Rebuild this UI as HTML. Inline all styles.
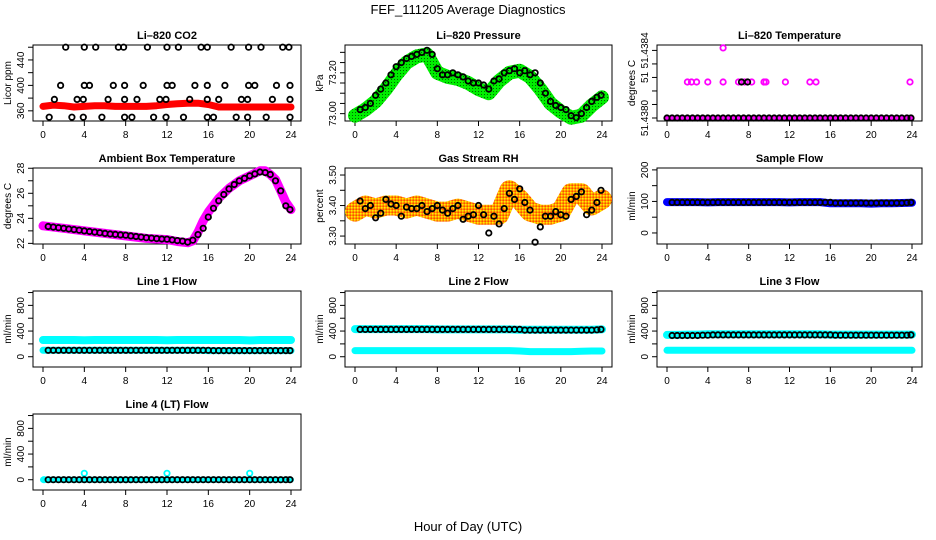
<!DOCTYPE html>
<html><head><meta charset="utf-8"><style>
body{margin:0;background:#fff;}
svg{display:block;font-family:"Liberation Sans",sans-serif;}
</style></head><body>
<svg id="chart" width="936" height="540" viewBox="0 0 936 540">
<defs>
<pattern id="rhpat" width="3" height="3" patternUnits="userSpaceOnUse">
<rect width="3" height="3" fill="#ff9900"/><rect x="0" y="0" width="1.5" height="1.5" fill="#ffee00"/><rect x="1.5" y="1.5" width="1.5" height="1.5" fill="#ff0000" opacity="0.5"/>
</pattern>
<pattern id="grpat" width="3" height="3" patternUnits="userSpaceOnUse">
<rect width="3" height="3" fill="#00ee00"/><rect x="1" y="1" width="1" height="1" fill="#006600"/>
</pattern>
</defs>
<text x="468" y="14" text-anchor="middle" font-size="13">FEF_111205  Average Diagnostics</text>
<text x="468" y="531" text-anchor="middle" font-size="13">Hour of Day (UTC)</text>
</svg>
<script>
// ---- data ----
const smearHours = [0,1,2,3,4,5,6,7,8,9,10,11,12,13,14,15,16,17,18,19,20,21,22,23,24];
const ptHours = [0.5,1,1.5,2,2.5,3,3.5,4,4.5,5,5.5,6,6.5,7,7.5,8,8.5,9,9.5,10,10.5,11,11.5,12,12.5,13,13.5,14,14.5,15,15.5,16,16.5,17,17.5,18,18.5,19,19.5,20,20.5,21,21.5,22,22.5,23,23.5,23.9];

const co2Smear = [367,369,368,366,367,368,368,367,367,367,367,368,370,371,372,372,370,366,366,366,366,366,366,366,366];
const co2PtHours = [2.2,4,5.1,7.3,7.8,10.1,12,13.1,15.3,15.9,18.2,19.9,21.1,23.2,23.8,
 1.7,4,4.5,6.8,7.9,9.7,12,12.5,14.7,15.9,17.6,19.9,20.5,22.6,23.9,
 1.1,3.3,3.9,6.3,7.9,9.1,11.3,11.9,14.2,15.9,17,19.2,19.8,22.2,23.9,
 0.6,2.8,3.9,5.7,7.9,8.6,10.7,11.9,13.6,15.9,16.5,18.7,19.8,21.6,23.9];
const co2PtVals = [460,460,460,460,460,460,460,460,460,460,460,460,460,460,460,
 400,400,400,400,400,400,400,400,400,400,400,400,400,400,400,
 378,378,378,378,378,378,378,378,378,378,378,378,378,378,378,
 350,350,350,350,350,350,350,350,350,350,350,350,350,350,350];

const presSmear = [72.99,73.02,73.06,73.12,73.19,73.25,73.28,73.29,73.20,73.18,73.17,73.15,73.12,73.10,73.16,73.20,73.21,73.18,73.12,73.05,73.01,72.98,72.99,73.04,73.08];
const presPts = [73.02,73.03,73.05,73.09,73.12,73.15,73.19,73.23,73.25,73.27,73.28,73.29,73.30,73.31,73.29,73.22,73.19,73.19,73.20,73.19,73.18,73.16,73.15,73.15,73.14,73.12,73.16,73.17,73.20,73.21,73.22,73.20,73.21,73.19,73.20,73.15,73.10,73.06,73.04,73.03,73.02,72.99,72.98,73.00,73.03,73.06,73.08,73.09];

const tempBaseHours = [0,0.5,1,1.5,2,2.5,3,3.5,4,4.5,5,5.5,6,6.5,7,7.5,8,8.5,9,9.5,10,10.5,11,11.5,12,12.5,13,13.5,14,14.5,15,15.5,16,16.5,17,17.5,18,18.5,19,19.5,20,20.5,21,21.5,22,22.5,23,23.5,23.9];
const tempPinkHours = [2,2.4,2.9,4,5.5,7,7.6,8.3,9.5,9.7,11.6,14,14.6,23.8,5.5];
const tempPinkVals = [51.438213,51.438213,51.438213,51.438213,51.438213,51.438213,51.438213,51.438213,51.438213,51.438213,51.438213,51.438213,51.438213,51.438213,51.438415];
const tempBlackHours = [7.3,7.9];
const tempBlackVals = [51.438213,51.438213];

const ambHours = [0,2,4,6,8,10,12,13,14,14.5,15,15.5,16,17,18,19,20,21,21.5,22,22.5,23,23.5,24];
const ambSmear = [23.4,23.2,23.0,22.8,22.6,22.4,22.3,22.15,22.05,22.2,22.9,23.8,24.5,25.6,26.4,27.0,27.4,27.8,27.8,27.5,27.1,26.2,25.3,24.7];
const ambPts = [23.35,23.3,23.25,23.2,23.15,23.1,23.05,23.0,22.95,22.9,22.85,22.8,22.75,22.72,22.68,22.65,22.6,22.55,22.5,22.45,22.42,22.38,22.35,22.33,22.28,22.22,22.18,22.1,22.25,22.7,23.2,24.1,24.8,25.4,25.9,26.35,26.7,27.0,27.2,27.4,27.55,27.7,27.65,27.5,27.0,26.2,25.0,24.7];

const rhSmear = [3.38,3.40,3.39,3.40,3.40,3.39,3.40,3.39,3.38,3.38,3.39,3.38,3.37,3.37,3.37,3.45,3.42,3.38,3.37,3.37,3.38,3.44,3.44,3.40,3.42];
const rhPts = [3.415,3.39,3.40,3.36,3.375,3.42,3.405,3.40,3.365,3.395,3.39,3.39,3.40,3.38,3.39,3.40,3.385,3.375,3.39,3.40,3.355,3.365,3.37,3.40,3.37,3.31,3.365,3.34,3.39,3.44,3.42,3.455,3.41,3.385,3.28,3.33,3.365,3.365,3.38,3.37,3.365,3.42,3.43,3.445,3.37,3.385,3.41,3.45];

const sampleSmear = [98,98,98,98,97,98,98,98,98,98,98,98,97,98,98,98,94,94,94,94,93,94,94,95,96];
const samplePts = [97,97,97,97,97,97,97,97,97,97,97,97,97,97,97,97,97,97,97,97,97,97,97,97,97,97,97,97,97,97,97,97,95,95,95,95,95,95,95,95,95,95,95,95,95,95,96,97];

const line1Hi = [260,260,260,260,258,260,260,260,260,260,260,260,258,260,260,260,260,260,260,260,255,260,260,260,260];
const line1Lo = [100,100,100,100,100,100,100,100,100,100,100,100,100,100,100,100,95,95,95,95,95,95,95,95,95];
const line1Pts = [100,100,100,100,100,100,100,100,100,100,100,100,100,100,100,100,100,100,100,100,100,100,100,100,100,100,100,100,100,100,100,100,95,95,95,95,95,95,95,95,95,95,95,95,95,95,95,95];

const line2Hi = [430,430,430,430,430,430,430,430,425,425,425,425,425,425,425,425,420,420,420,420,420,420,420,420,425];
const line2Lo = [95,95,95,95,95,95,95,95,95,95,95,95,95,95,95,95,90,80,80,80,80,80,85,90,90];
const line2Pts = [425,425,425,425,425,425,425,425,425,425,425,425,425,425,425,425,425,425,425,425,425,425,425,425,425,425,425,425,425,425,425,425,415,415,415,415,415,415,415,415,415,415,415,415,415,415,420,425];

const line3Hi = [340,340,345,345,350,350,350,350,350,350,350,350,350,350,350,350,345,345,345,345,345,345,345,345,345];
const line3Lo = [100,100,100,100,100,100,100,100,100,100,100,100,100,100,100,100,100,100,100,100,100,100,100,100,100];
const line3Pts = [330,330,330,330,330,330,335,335,340,340,340,340,340,340,340,340,340,340,340,340,340,340,340,340,340,340,340,340,340,340,340,340,335,335,335,335,335,335,335,335,335,335,335,335,335,335,335,340];

const line4Smear = [0,0,0,0,0,0,0,0,0,0,0,0,0,0,0,0,0,0,0,0,0,0,0,0,0];
const line4SpikeHours = [0.1,4,12,20];
const line4SpikeVals = [0,100,100,100];
const line4Pts = [0,0,0,0,0,0,0,0,0,0,0,0,0,0,0,0,0,0,0,0,0,0,0,0,0,0,0,0,0,0,0,0,0,0,0,0,0,0,0,0,0,0,0,0,0,0,0,0];

const xTicks = [0,4,8,12,16,20,24];

// ---- drawing ----
const svg = document.getElementById('chart');
const NS = 'http://www.w3.org/2000/svg';
const colL = [33, 345, 657], colR = [301, 612, 922];
const rowT = [45, 168, 291, 414], boxH = 76;
function mk(tag, attrs, parent){ const e=document.createElementNS(NS,tag); for(const k in attrs) e.setAttribute(k,attrs[k]); (parent||svg).appendChild(e); return e; }

function panel(col,row,title,name,ymin,ymax,yticks,ylabels,ytitle){
  const g = mk('g',{});
  
  
  const L=colL[col],R=colR[col],T=rowT[row],B=T+boxH;
  const xs=h=>L+10+(R-L-20)*h/24;
  const ys=v=>B-(v-ymin)/(ymax-ymin)*boxH;
  const t=mk('text',{x:(L+R)/2,y:T-6,'text-anchor':'middle','font-size':'11','font-weight':'bold'},g);
  t.textContent=title;
  
  
  const ax=mk('g',{stroke:'#000','stroke-width':'1'},g);
  
  
  mk('rect',{x:L,y:T,width:R-L,height:boxH,fill:'none'},ax);
  xTicks.forEach(h=>{
    mk('line',{x1:xs(h),x2:xs(h),y1:B,y2:B+5},ax);
    const tx=mk('text',{x:xs(h),y:B+17,'text-anchor':'middle','font-size':'10',stroke:'none'},g);
    tx.textContent=h;
    
    
  });
  yticks.forEach((v,i)=>{
    mk('line',{x1:L,x2:L-5,y1:ys(v),y2:ys(v)},ax);
    if(ylabels[i]){
      const tx=mk('text',{x:L-9,y:ys(v),'text-anchor':'middle','font-size':'10',transform:`rotate(-90 ${L-9} ${ys(v)})`},g);
      tx.textContent=ylabels[i];
      
      
    }
  });
  const yt=mk('text',{x:L-22,y:(T+B)/2,'text-anchor':'middle','font-size':'10',transform:`rotate(-90 ${L-22} ${(T+B)/2})`},g);
  yt.textContent=ytitle;
  
  
  return {g,xs,ys};
}
function band(p,hours,vals,color,w,sname){
  const d=hours.map((h,i)=>(i?'L':'M')+p.xs(h).toFixed(1)+','+p.ys(vals[i]).toFixed(1)).join(' ');
  const e=mk('path',{d:d,fill:'none',stroke:color,'stroke-width':w,'stroke-linecap':'round','stroke-linejoin':'round'},p.g);
  
  
}
function pts(p,hours,vals,color,sname,r){
  const gg=mk('g',{fill:'none',stroke:color,'stroke-width':'1.8'},p.g);
  
  
  hours.forEach((h,i)=>{
    const c=mk('circle',{cx:p.xs(h).toFixed(1),cy:p.ys(vals[i]).toFixed(1),r:r||2.7},gg);
    
    
  });
}

// CO2
let p=panel(0,0,'Li–820 CO2','co2-panel',344,463.5,[360,380,400,420,440,460],['360','','400','','440',''],'Licor ppm');
band(p,smearHours,co2Smear,'#ff0000',7,'co2-red-series');
pts(p,co2PtHours,co2PtVals,'#000','co2-black-series');
// Pressure
p=panel(1,0,'Li–820 Pressure','pressure-panel',72.964,73.336,[73.00,73.05,73.10,73.15,73.20,73.25,73.30],['73.00','','','','73.20','',''],'kPa');
band(p,smearHours,presSmear,'url(#grpat)',14,'pressure-green-series');
pts(p,ptHours,presPts,'#000','pressure-black-series');
// Temperature
p=panel(2,0,'Li–820 Temperature','li820-temp-panel',51.4379822,51.438432,[51.4380,51.43808,51.43816,51.43824,51.43832,51.4384],['51.4380','','','51','','51.4384'],'degrees C');
band(p,[0,24],[51.4380,51.4380],'#ff00ff',5,'temp-pink-base');
pts(p,tempPinkHours,tempPinkVals,'#ff00ff','temp-pink-series');
pts(p,tempBaseHours,tempBaseHours.map(()=>51.4380),'#000','temp-black-base');
pts(p,tempBlackHours,tempBlackVals,'#000','temp-black-series');
// Ambient
p=panel(0,1,'Ambient Box Temperature','ambient-panel',21.95,28.02,[22,23,24,25,26,27,28],['22','','24','','26','','28'],'degrees C');
band(p,ambHours,ambSmear,'#ff00ff',9,'ambient-magenta-series');
pts(p,ptHours,ambPts,'#000','ambient-black-series');
// RH
p=panel(1,1,'Gas Stream RH','rh-panel',3.274,3.523,[3.30,3.35,3.40,3.45,3.50],['3.30','','3.40','','3.50'],'percent');
band(p,smearHours,rhSmear,'url(#rhpat)',20,'rh-orange-series');
pts(p,ptHours,rhPts,'#000','rh-black-series');
// Sample flow
p=panel(2,1,'Sample Flow','sample-flow-panel',-35,206,[0,50,100,150,200],['0','','100','','200'],'ml/min');
band(p,smearHours,sampleSmear,'#0000ff',8,'sample-blue-series');
pts(p,ptHours,samplePts,'#000','sample-black-series');
// Line flows
const fT=[0,200,400,600,800,1000], fL=['0','','400','','800',''];
p=panel(0,2,'Line 1 Flow','line1-panel',-160,1024,fT,fL,'ml/min');
band(p,smearHours,line1Hi,'#00ffff',8,'line1-cyan-high');
band(p,smearHours,line1Lo,'#00ffff',7,'line1-cyan-low');
pts(p,ptHours,line1Pts,'#000','line1-black-series');
p=panel(1,2,'Line 2 Flow','line2-panel',-160,1024,fT,fL,'ml/min');
band(p,smearHours,line2Hi,'#00ffff',8,'line2-cyan-high');
band(p,smearHours,line2Lo,'#00ffff',7,'line2-cyan-low');
pts(p,ptHours,line2Pts,'#000','line2-black-series');
p=panel(2,2,'Line 3 Flow','line3-panel',-160,1024,fT,fL,'ml/min');
band(p,smearHours,line3Hi,'#00ffff',8,'line3-cyan-high');
band(p,smearHours,line3Lo,'#00ffff',7,'line3-cyan-low');
pts(p,ptHours,line3Pts,'#000','line3-black-series');
p=panel(0,3,'Line 4 (LT) Flow','line4-panel',-160,1024,fT,fL,'ml/min');
band(p,smearHours,line4Smear,'#00ffff',6,'line4-cyan-series');
pts(p,line4SpikeHours,line4SpikeVals,'#00ffff','line4-cyan-spikes');
pts(p,ptHours,line4Pts,'#000','line4-black-series');
</script>
</body></html>
